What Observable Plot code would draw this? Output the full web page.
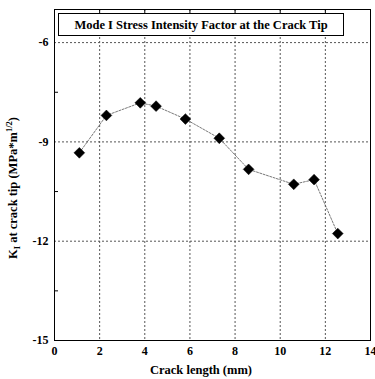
<!DOCTYPE html>
<html>
<head>
<meta charset="utf-8">
<script src="https://cdn.jsdelivr.net/npm/d3@7"></script>
<script src="https://cdn.jsdelivr.net/npm/@observablehq/plot@0.6"></script>
<style>
  html, body { margin: 0; padding: 0; background: #fff; }
  #chart svg { display: block; }
</style>
</head>
<body>
<div id="chart"></div>
<script>
const crackLength = [1.1, 2.3, 3.8, 4.5, 5.8, 7.3, 8.6, 10.6, 11.5, 12.55];
const kI = [-9.33, -8.2, -7.82, -7.92, -8.31, -8.89, -9.83, -10.28, -10.14, -11.77];
const xTicks = [0, 2, 4, 6, 8, 10, 12, 14];
const yTicks = [-6, -9, -12, -15];
const xGrid = [2, 4, 6, 8, 10, 12];
const yGrid = [-6, -9, -12];
const yMinorTicks = [-7.5, -10.5, -13.5];
const titleText = "Mode I Stress Intensity Factor at the Crack Tip";
const xLabel = "Crack length (mm)";

const data = crackLength.map((x, i) => ({x, y: kI[i]}));

const squareDiamond = {
  draw(context, size) {
    const h = Math.sqrt(size / 2);
    context.moveTo(0, -h);
    context.lineTo(h, 0);
    context.lineTo(0, h);
    context.lineTo(-h, 0);
    context.closePath();
  }
};

const font = "'Liberation Serif', 'Times New Roman', serif";

const plot = Plot.plot({
  width: 375,
  height: 379,
  marginLeft: 54,
  marginRight: 5,
  marginTop: 9,
  marginBottom: 39,
  style: {fontFamily: font, fontSize: "12px", color: "#000", background: "#fff"},
  x: {domain: [0, 14]},
  y: {domain: [-15, -5]},
  marks: [
    Plot.ruleX(xGrid, {x: d => d, stroke: "#555", strokeDasharray: "2,2", strokeWidth: 1}),
    Plot.ruleY(yGrid, {y: d => d, stroke: "#555", strokeDasharray: "2,2", strokeWidth: 1}),
    Plot.frame({stroke: "#000", strokeWidth: 1}),
    Plot.axisX({ticks: xTicks, tickSize: 0, tickPadding: 6, label: null, fontSize: 12, fontWeight: "bold"}),
    Plot.axisX({ticks: xTicks, anchor: "top", tickSize: -4, text: null, label: null}),
    Plot.axisY({ticks: yTicks, tickSize: 0, tickPadding: 6, label: null, fontSize: 12, fontWeight: "bold", tickFormat: d => d.toString()}),
    Plot.axisY({ticks: yMinorTicks, tickSize: -4, text: null, label: null}),
    Plot.line(data, {x: "x", y: "y", stroke: "#555", strokeWidth: 0.8, strokeDasharray: "2,1.5"}),
    Plot.dot(data, {x: "x", y: "y", symbol: squareDiamond, r: 4.3, fill: "#000", stroke: "#000", strokeWidth: 0.5})
  ]
});

document.getElementById("chart").appendChild(plot);

const svg = d3.select(plot);
svg.selectAll("text").attr("font-weight", "bold").style("font-weight", "bold");

// Title box
const tg = svg.append("g");
tg.append("rect")
  .attr("x", 58.5).attr("y", 13.5).attr("width", 285).attr("height", 22)
  .attr("fill", "#fff").attr("stroke", "#000").attr("stroke-width", 1);
tg.append("text")
  .attr("x", 201).attr("y", 29)
  .attr("text-anchor", "middle")
  .attr("font-family", font).attr("font-weight", "bold").attr("font-size", 12.5)
  .text(titleText);

// X label
svg.append("text")
  .attr("x", 201).attr("y", 374)
  .attr("text-anchor", "middle")
  .attr("font-family", font).attr("font-weight", "bold").attr("font-size", 12.5)
  .text(xLabel);

// Y label with subscript and superscript
const yl = svg.append("text")
  .attr("transform", "translate(17,188) rotate(-90)")
  .attr("text-anchor", "middle")
  .attr("font-family", font).attr("font-weight", "bold").attr("font-size", 12.5);
yl.append("tspan").text("K");
yl.append("tspan").attr("dy", 3).attr("font-size", 8.5).text("I");
yl.append("tspan").attr("dy", -3).text(" at crack tip (MPa*m");
yl.append("tspan").attr("dy", -5).attr("font-size", 8.5).text("1/2");
yl.append("tspan").attr("dy", 5).text(")");
</script>
</body>
</html>
